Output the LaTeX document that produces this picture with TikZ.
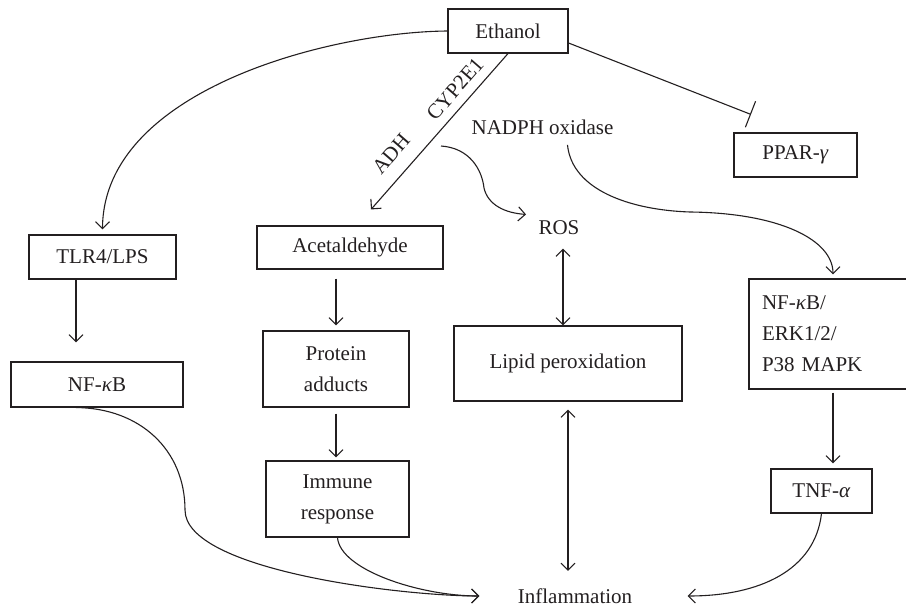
\documentclass[tikz,border=0pt]{standalone}
\usepackage{fontspec}
\setmainfont{Liberation Serif}
\usepackage{tikz}
\usetikzlibrary{arrows.meta}
\definecolor{ink}{HTML}{231F20}

\begin{document}
\begin{tikzpicture}[x=1pt, y=-1pt,
    every node/.style={text=ink, font=\fontsize{21}{31}\selectfont},
    box/.style={draw=ink, line width=1.1pt, align=center, inner sep=0pt},
    arr/.style={draw=ink, line width=1.1pt, -{Straight Barb[length=7pt, width=14pt]}},
    darr/.style={draw=ink, line width=1.1pt, {Straight Barb[length=7pt, width=14pt]}-{Straight Barb[length=7pt, width=14pt]}},
    inhib/.style={draw=ink, line width=1.1pt, -{Bar[width=28pt, line width=1.1pt]}}]
  \useasboundingbox (0,0) rectangle (906,607);
  % Boxes
  \node[box, minimum width=120pt, minimum height=44pt] (ethanol) at (508,31) {Ethanol};
  \node[box, minimum width=123pt, minimum height=44pt] (ppar) at (795.5,155) {PPAR-\textit{γ}};
  \node[box, minimum width=147pt, minimum height=44pt] (tlr) at (102.5,257) {TLR4/LPS};
  \node[box, minimum width=172pt, minimum height=45pt] (nfkb) at (97,384.5) {NF-\textit{κ}B};
  \node[box, minimum width=186pt, minimum height=43pt] (acet) at (350,247.5) {Acetaldehyde};
  \node[box, minimum width=146pt, minimum height=76pt] (protein) at (336,369) {Protein\\adducts};
  \node[box, minimum width=143pt, minimum height=76pt] (immune) at (337.5,499) {\fontsize{21}{27}\selectfont Immune\\response};
  \node[box, minimum width=228pt, minimum height=75pt] (lipid) at (568,363.5) {Lipid peroxidation};
  \node[box, minimum height=110pt, text width=135pt, align=left, inner xsep=13pt] (erk) at (829.5,334) {NF-\textit{κ}B/\\ERK1/2/\\P38 MAPK};
  \node[box, minimum width=101pt, minimum height=44pt] (tnf) at (821.5,491) {TNF-\textit{α}};
  % Plain labels
  \node (nadph) at (542.5,127) {NADPH oxidase};
  \node (ros) at (559,228) {ROS};
  \node (inflam) at (575,596) {Inflammation};
  \node[rotate=49] (cyplab) at (455,89) {CYP2E1};
  \node[rotate=49] (adhlab) at (391,154) {ADH};
  \coordinate (cyp) at (441,146);

  % Ethanol branches
  \draw[arr] (ethanol.west) .. controls (330,32) and (103,90) .. ([yshift=5pt]tlr.north);
  \draw[arr] (ethanol.south) -- ([xshift=21pt,yshift=16pt]acet.north);
  \draw[inhib] ([yshift=-12pt]ethanol.east) -- ([xshift=-44.5pt,yshift=18pt]ppar.north);
  \draw[arr] (cyp) .. controls (470,148) and (482,170) .. (484,188)
    .. controls (488,205) and (505,213) .. ([xshift=-9pt,yshift=3pt]ros.north west);
  \draw[arr] ([xshift=25pt,yshift=-7pt]nadph.south) .. controls (572,190) and (630,210) .. (690,212)
    .. controls (780,213) and (833,240) .. ([xshift=3.5pt,yshift=4pt]erk.north);

  % Straight steps
  \draw[arr] ([xshift=-26.5pt]tlr.south) -- ([xshift=-21pt,yshift=19pt]nfkb.north);
  \draw[arr, shorten <=9pt] ([xshift=-14pt]acet.south) -- ([yshift=5pt]protein.north);
  \draw[arr, shorten <=6pt] (protein.south) -- ([xshift=-1.5pt,yshift=3pt]immune.north);
  \draw[darr, shorten <=10pt] ([xshift=4pt]ros.south) -- ([xshift=-5pt]lipid.north);
  \draw[darr, shorten <=8pt, shorten >=14pt] (lipid.south) -- ([xshift=-7pt]inflam.north);
  \draw[arr, shorten <=3pt] ([xshift=3.5pt]erk.south) -- ([xshift=11.5pt,yshift=5pt]tnf.north);

  % Into inflammation
  \draw[arr] ([xshift=-21pt]nfkb.south) .. controls (140,408) and (185,450) .. (185,510)
    .. controls (185,570) and (400,596) .. ([xshift=-35pt]inflam.west);
  \draw[arr] (immune.south) .. controls (340,570) and (420,596) .. ([xshift=-35pt]inflam.west);
  \draw[arr] (tnf.south) .. controls (815,570) and (760,596) .. ([xshift=52pt]inflam.east);
\end{tikzpicture}
\end{document}
